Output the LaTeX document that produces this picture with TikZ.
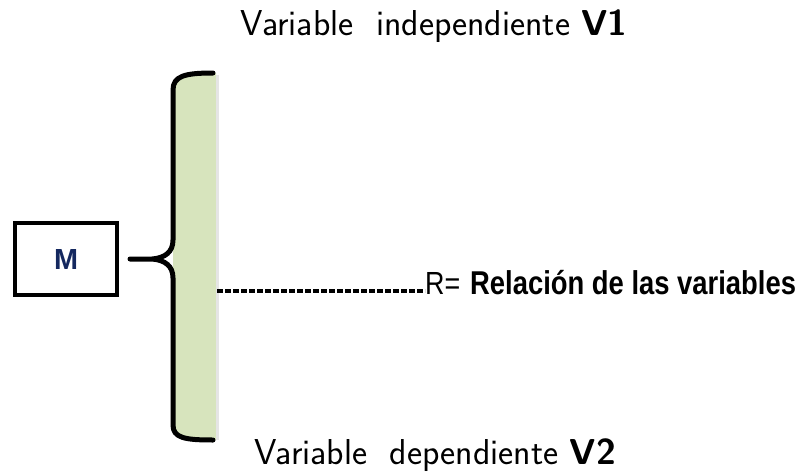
\documentclass[tikz,border=0pt]{standalone}
\usepackage{fontspec}
\setmainfont{Liberation Sans}
\usetikzlibrary{positioning}
\definecolor{bracegreen}{HTML}{D7E4BD}
\definecolor{mnavy}{HTML}{14285F}
\tikzset{
  lbl/.style={font=\sffamily\fontsize{36}{42}\selectfont, inner sep=0pt},
  mbox/.style={draw, line width=3.5pt, minimum width=102pt, minimum height=72pt, inner sep=0pt,
    text=mnavy},
  bracepath/.style={line width=5pt, line cap=round, line join=round},
  dashline/.style={line width=4.5pt, dash pattern=on 6pt off 2pt}
}
\begin{document}
\begin{tikzpicture}[x=1pt,y=-1pt]
\useasboundingbox (0,0) rectangle (798,474);
% green fill
\fill[bracegreen] (213,73) .. controls (185,73) and (173,76) .. (173,90) -- (173,425) .. controls (173,438) and (185,440) .. (213,440) -- (216,440) -- (216,73) -- cycle;
% shadow on right edge
\fill[black!10] (216,75) rectangle (219,440);
% brace
\draw[bracepath] (213,73) .. controls (185,73) and (173,76) .. (173,90) -- (173,240) .. controls (173,252) and (165,258) .. (152,259) -- (130,259)
  (152,259) .. controls (165,260) and (173,266) .. (173,278) -- (173,425) .. controls (173,438) and (185,440) .. (213,440);
\coordinate (braceright) at (217,291);
% box M
\node[mbox] (m) at (66,259) {\resizebox{24pt}{20pt}{\bfseries M}};
% texts
\node[lbl] (v1) at (434,26) {Variable\ \ independiente \textbf{V1}};
\node[lbl] (v2) at (435,455) {Variable\ \ dependiente \textbf{V2}};
\node[inner sep=0pt, anchor=base west, font=\fontsize{32}{38}\selectfont] (r) at (425,294) {\scalebox{0.84}[1]{R=}};
\node[inner sep=0pt, anchor=base west] (rel) at (470,294) {\scalebox{0.83}[1]{\bfseries\fontsize{33}{38}\selectfont Relación de las variables}};
\draw[dashline] (braceright) -- (braceright -| r.west);
\end{tikzpicture}
\end{document}
